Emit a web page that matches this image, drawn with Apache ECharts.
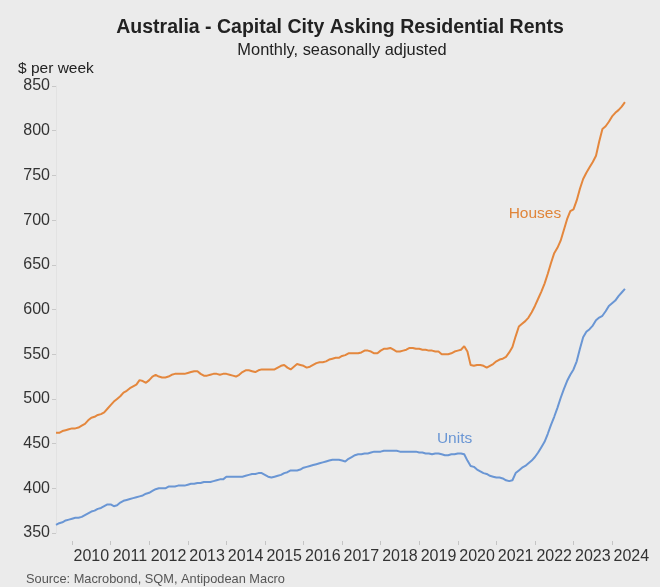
<!DOCTYPE html>
<html>
<head>
<meta charset="utf-8">
<script src="https://cdn.jsdelivr.net/npm/echarts@6/dist/echarts.min.js"></script>
<style>
html,body{margin:0;padding:0;background:#ebebeb;}
#c{width:660px;height:587px;}
</style>
</head>
<body>
<div id="c"></div>
<script>
// Monthly data, Aug 2009 .. May 2024 ($ per week)
const houses = [
462,462,464,465,466,467,467,468,470,472,476,479,480,482,483,485,489,493,497,500,
503,507,509,512,514,516,521,520,518,521,525,527,525,524,524,525,527,528,528,528,
528,529,530,531,531,528,526,526,527,528,528,527,528,528,527,526,525,527,530,532,
532,531,530,532,533,533,533,533,533,535,537,538,535,533,536,539,538,537,535,536,
538,540,541,541,542,544,545,546,546,548,549,551,551,551,551,552,554,554,553,551,
551,554,556,556,557,555,553,553,554,555,557,557,556,556,555,555,554,554,553,553,
550,550,550,551,553,554,555,559,553,538,537,538,538,537,535,537,539,542,544,545,
547,552,558,570,581,584,587,591,597,604,612,620,629,640,652,663,669,677,689,701,
710,712,722,735,746,753,759,765,772,788,802,805,810,816,820,823,827,832
];
const units = [
359,361,362,364,365,366,367,367,368,370,372,374,375,377,378,380,382,382,380,381,
384,386,387,388,389,390,391,392,394,395,397,399,400,400,400,402,402,402,403,403,
403,404,405,405,406,406,407,407,407,408,409,410,410,413,413,413,413,413,413,414,
415,416,416,417,417,415,413,412,413,414,415,417,418,420,420,420,421,423,424,425,
426,427,428,429,430,431,432,432,432,431,430,433,435,437,438,438,439,439,440,441,
441,441,442,442,442,442,442,441,441,441,441,441,441,440,440,439,439,438,439,439,
438,437,437,438,438,439,439,438,431,425,424,421,419,417,416,414,413,412,412,411,
409,408,409,417,420,423,425,428,431,435,440,446,452,461,471,480,490,501,511,520,
527,533,542,556,569,575,578,582,588,591,593,598,604,607,610,615,619,623
];
const yearLabels = ['2010','2011','2012','2013','2014','2015','2016','2017','2018','2019','2020','2021','2022','2023','2024'];
const yTicks = [350,400,450,500,550,600,650,700,750,800,850];
const monthNames = ['Jan','Feb','Mar','Apr','May','Jun','Jul','Aug','Sep','Oct','Nov','Dec'];
const startYear = 2009, startMonth = 7; // index 7 = Aug
const nCats = 183; // axis runs past the last observation to Oct 2024
const months = [];
for (let i = 0; i < nCats; i++) {
  const m = (startMonth + i) % 12;
  const y = startYear + Math.floor((startMonth + i) / 12);
  months.push(monthNames[m] + ' ' + y);
}

const FONT = "'Liberation Sans', Arial, sans-serif";
const chart = echarts.init(document.getElementById('c'), null, {renderer: 'canvas'});
chart.setOption({
  backgroundColor: '#ebebeb',
  animation: false,
  textStyle: {fontFamily: FONT},
  title: [
    {text: 'Australia - Capital City Asking Residential Rents', left: 335, top: 13, textAlign: 'center',
     textStyle: {fontSize: 19.5, fontWeight: 'bold', color: '#222', fontFamily: FONT}},
    {text: 'Monthly, seasonally adjusted', left: 337, top: 37, textAlign: 'center',
     textStyle: {fontSize: 16.4, fontWeight: 'normal', color: '#222', fontFamily: FONT}},
    {text: '$ per week', left: 13, top: 56,
     textStyle: {fontSize: 15.5, fontWeight: 'normal', color: '#222', fontFamily: FONT}},
    {text: 'Source: Macrobond, SQM, Antipodean Macro', left: 21, top: 568,
     textStyle: {fontSize: 12.8, fontWeight: 'normal', color: '#555', fontFamily: FONT}}
  ],
  grid: {left: 56, right: 19, top: 86, bottom: 54, containLabel: false},
  xAxis: {
    type: 'category', data: months, boundaryGap: false, offset: 8,
    axisLine: {show: false},
    axisTick: {show: true, length: 4, interval: function (idx) { return idx % 12 === 5; },
               lineStyle: {color: '#c4c4c4'}},
    axisLabel: {interval: function (idx) { return idx % 12 === 11; }, margin: 8,
                fontSize: 16, color: '#333', fontFamily: FONT,
                formatter: function (v, idx) { return yearLabels[(idx - 11) / 12] || ''; }},
    splitLine: {show: false}
  },
  yAxis: {
    type: 'value', min: yTicks[0], max: yTicks[yTicks.length - 1], interval: 50,
    axisLine: {show: true, lineStyle: {color: '#e2e2e2'}},
    axisTick: {show: true, length: 4, lineStyle: {color: '#c8c8c8'}},
    axisLabel: {fontSize: 16, color: '#333', margin: 6, fontFamily: FONT},
    splitLine: {show: false}
  },
  series: [
    {name: 'Houses', type: 'line', data: houses, showSymbol: false, smooth: false,
     lineStyle: {color: '#e4873d', width: 2}, itemStyle: {color: '#e4873d'},
     markPoint: {symbol: 'circle', symbolSize: 0, silent: true,
       label: {show: true, formatter: 'Houses', color: '#e0853a', fontSize: 15.5, fontFamily: FONT},
       data: [{coord: [149, 707]}]}},
    {name: 'Units', type: 'line', data: units, showSymbol: false, smooth: false,
     lineStyle: {color: '#6a96d4', width: 2}, itemStyle: {color: '#6a96d4'},
     markPoint: {symbol: 'circle', symbolSize: 0, silent: true,
       label: {show: true, formatter: 'Units', color: '#6a96d4', fontSize: 15.5, fontFamily: FONT},
       data: [{coord: [124, 456]}]}}
  ]
});
</script>
</body>
</html>
